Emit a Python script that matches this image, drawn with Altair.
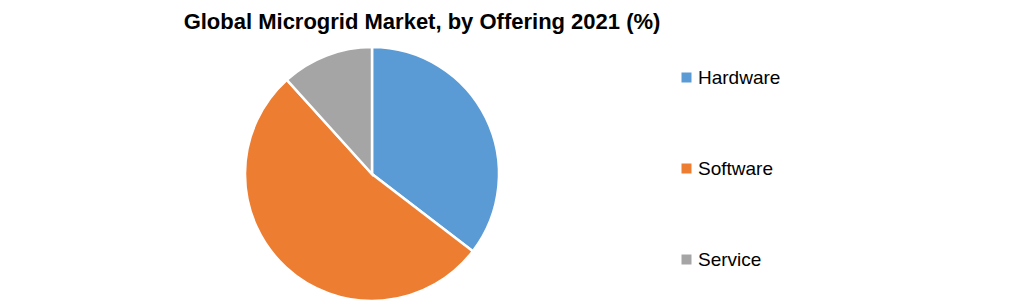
import altair as alt
import pandas as pd

categories = ["Hardware", "Software", "Service"]
shares = [35.4, 52.9, 11.7]
colors = ["#5B9BD5", "#ED7D31", "#A5A5A5"]
title_text = "Global Microgrid Market, by Offering 2021 (%)"

df = pd.DataFrame({"Offering": categories, "Share": shares, "order": [0, 1, 2]})

pie = alt.Chart(df).mark_arc(
    x=372, y=174, outerRadius=127, stroke="white", strokeWidth=2.5
).encode(
    theta=alt.Theta("Share:Q", stack=True),
    order=alt.Order("order:Q"),
    color=alt.Color(
        "Offering:N",
        scale=alt.Scale(domain=categories, range=colors),
        sort=categories,
        legend=alt.Legend(
            title=None,
            orient="none",
            legendX=677,
            legendY=68,
            symbolType="square",
            symbolSize=100,
            symbolStrokeWidth=0,
            labelFontSize=19,
            labelFont="Liberation Sans",
            labelColor="#000000",
            labelOffset=2,
            rowPadding=71,
            padding=0,
        ),
    ),
)

title = alt.Chart(pd.DataFrame({"t": [title_text]})).mark_text(
    x=422, y=22, fontSize=22, fontWeight="bold", font="Liberation Sans", color="#000000",
    align="center", baseline="middle"
).encode(text="t:N")

chart = alt.layer(pie, title).properties(
    width=1021, height=304, autosize=alt.AutoSizeParams(type="none"), padding=0
).configure_view(stroke=None)

chart.save("out.html", embed_options={"renderer": "svg", "actions": False})
